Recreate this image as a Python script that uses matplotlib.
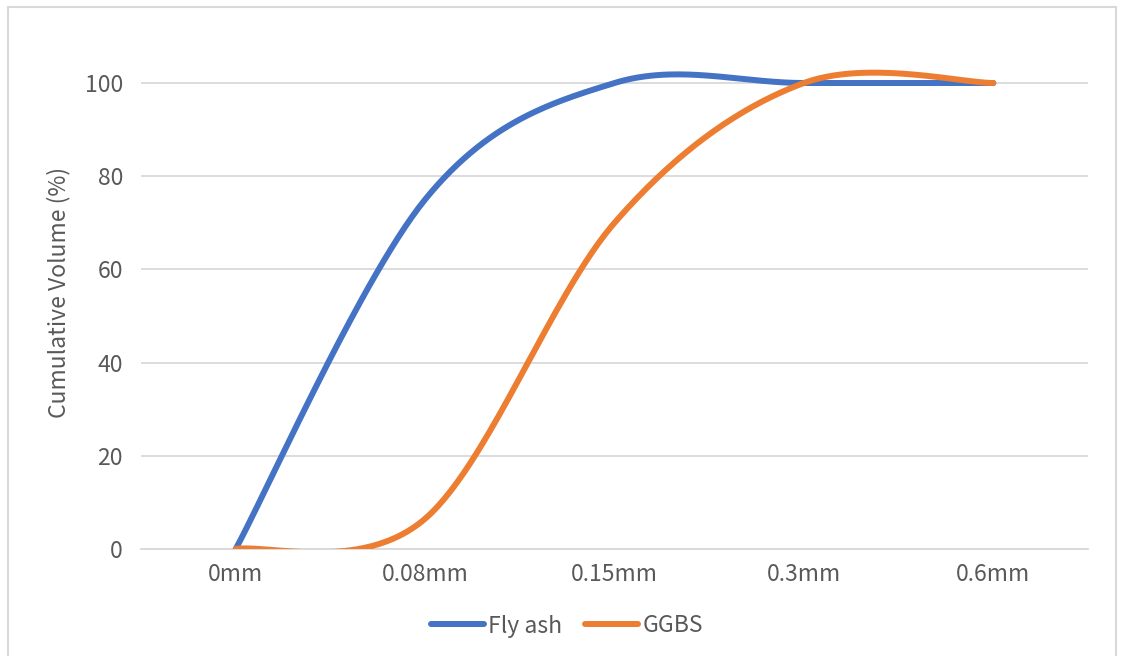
import numpy as np
import matplotlib.pyplot as plt
from matplotlib.lines import Line2D
from matplotlib.patches import Rectangle

plt.rcParams['font.family'] = ['Noto Sans CJK SC', 'DejaVu Sans']
plt.rcParams['font.weight'] = 'light'

sizes = ['0mm', '0.08mm', '0.15mm', '0.3mm', '0.6mm']
fly_ash = [0, 75, 100, 100, 100]
ggbs = [0, 6.5, 70, 100, 100]

BLUE = '#4472c4'
ORANGE = '#ed7d31'
GREY = '#595959'


def smooth(y, steps=60):
    # cubic bezier through the points, spreadsheet style smoothing
    x = np.arange(len(y), dtype=float)
    y = np.asarray(y, dtype=float)
    pts = np.column_stack([x, y])
    n = len(pts)
    out = []
    for i in range(n - 1):
        p0 = pts[i]
        p3 = pts[i + 1]
        prev = pts[i - 1] if i > 0 else pts[i]
        nxt = pts[i + 2] if i + 2 < n else pts[i + 1]
        p1 = p0 + (p3 - prev) / 6
        p2 = p3 - (nxt - p0) / 6
        t = np.linspace(0, 1, steps)[:, None]
        seg = ((1 - t) ** 3 * p0 + 3 * (1 - t) ** 2 * t * p1
               + 3 * (1 - t) * t ** 2 * p2 + t ** 3 * p3)
        out.append(seg if i == 0 else seg[1:])
    out = np.vstack(out)
    return out[:, 0], out[:, 1]


fig = plt.figure(figsize=(11.23, 6.56), dpi=100)
W, H = 1123, 656
ax = fig.add_axes([141 / W, 1 - 549 / H, (1088 - 141) / W, (549 - 36.4) / H])

for vals, col, name in [(fly_ash, BLUE, 'Fly ash'), (ggbs, ORANGE, 'GGBS')]:
    sx, sy = smooth(vals)
    ax.plot(sx, sy, color=col, lw=4.3, solid_capstyle='round',
            solid_joinstyle='round', label=name, zorder=3)

ax.set_xlim(-0.5, len(sizes) - 0.5)
ax.set_ylim(0, 110)
ax.set_xticks(range(len(sizes)))
ax.set_xticklabels(sizes)
ax.set_yticks(range(0, 101, 20))
ax.yaxis.grid(True, color='#d9d9d9', lw=1.3)
ax.set_axisbelow(True)
for s in ['top', 'right', 'left']:
    ax.spines[s].set_visible(False)
ax.spines['bottom'].set_color('#d9d9d9')
ax.spines['bottom'].set_linewidth(1.3)
ax.tick_params(length=0, labelsize=16.5, colors=GREY)
ax.tick_params(axis='y', pad=13)
ax.tick_params(axis='x', pad=10)
ax.set_ylabel('Cumulative Volume (%)', fontsize=16.5, color=GREY, labelpad=10)

handles = [Line2D([], [], color=BLUE, lw=4.3, solid_capstyle='round'),
           Line2D([], [], color=ORANGE, lw=4.3, solid_capstyle='round')]
fig.legend(handles, ['Fly ash', 'GGBS'], loc='center', ncol=2,
           bbox_to_anchor=(567 / W, 1 - 626 / H), frameon=False,
           fontsize=16.5, labelcolor=GREY, handlelength=2.3,
           handletextpad=0.2, columnspacing=1.0)

fig.patches.append(Rectangle((8 / W, -0.01), (1116 - 8) / W, 1.01 - 7 / H,
                             transform=fig.transFigure, fill=False,
                             edgecolor='#d9d9d9', lw=1.5))

fig.savefig('out.png', dpi=100)
